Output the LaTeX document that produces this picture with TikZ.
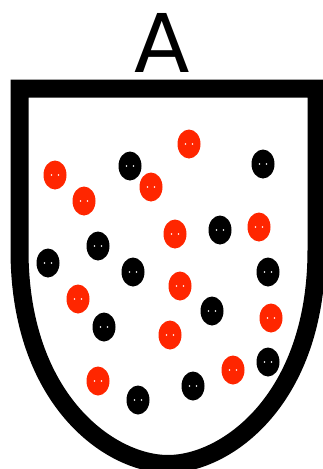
\documentclass[tikz,border=0pt]{standalone}
\usepackage{fontspec}
\usepackage{tikz}
\newfontfamily\signfont{DejaVu Sans}
\definecolor{beadred}{RGB}{255,38,0}

\begin{document}
\begin{tikzpicture}[
  x=1pt, y=-1pt,
  wall/.style={draw=black, line width=18pt, line join=miter},
  bead/.style={fill=#1},
  eye/.style={fill=white},
  lab/.style={font=\fontsize{81}{81}\selectfont\signfont, inner sep=0pt, anchor=base}
]
\useasboundingbox (0,0) rectangle (323,469);
\node[lab] (title) at (162.5,72) {A};
% the shield
\draw[wall] (168,464) .. controls (110,464) and (19.5,400) .. (19.5,250)
  -- (19.5,88.5) -- (316.5,88.5) -- (316.5,250)
  .. controls (316.5,400) and (226,464) .. (168,464) -- cycle;
% beads
\foreach \x/\y in {189/144, 55/175, 151/187, 84/201, 175/234, 259/227,
                   180/286, 78/299, 271/318, 170/335, 233/370, 98/381}
  \fill[bead=beadred] (\x,\y) ellipse [x radius=11.5, y radius=14.5];
\foreach \x/\y in {130/166, 263/164, 220/230, 98/246, 48/263, 133/272,
                   268/272, 212/311, 104/327, 268/362, 193/386, 138/400}
  \fill[bead=black] (\x,\y) ellipse [x radius=11.5, y radius=14.5];
\foreach \x/\y in {189/144, 55/175, 151/187, 84/201, 175/234, 259/227,
                   180/286, 78/299, 271/318, 170/335, 233/370, 98/381,
                   130/166, 263/164, 220/230, 98/246, 48/263, 133/272,
                   268/272, 212/311, 104/327, 268/362, 193/386, 138/400}
  {\fill[eye] (\x-3.5,\y) circle [radius=0.9];
   \fill[eye] (\x+3.5,\y) circle [radius=0.9];}
\end{tikzpicture}
\end{document}
